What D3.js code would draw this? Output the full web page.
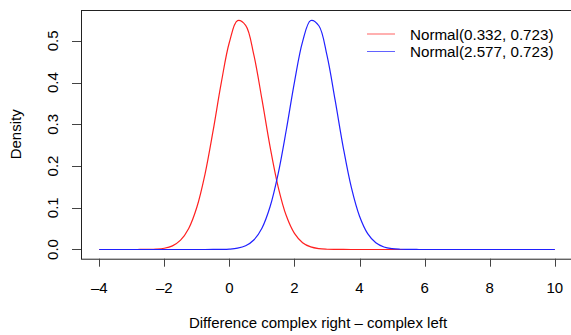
<!DOCTYPE html>
<html>
<head>
<meta charset="utf-8">
<script src="https://cdn.jsdelivr.net/npm/d3@7"></script>
<style>
  body { margin: 0; background: #fff; }
  svg { display: block; font-family: "Liberation Sans", Arial, sans-serif; }
</style>
</head>
<body>
<div id="chart"></div>
<script>
// x grid and density values
const xs = [-4, -3.5, -3, -2.75, -2.5, -2.25, -2, -1.75, -1.5, -1.25, -1, -0.75, -0.5, -0.25,
  0, 0.25, 0.5, 0.75, 1, 1.25, 1.5, 1.75, 2, 2.25, 2.5, 2.75, 3, 3.25, 3.5, 3.75,
  4, 4.25, 4.5, 4.75, 5, 5.25, 5.5, 5.75, 6, 7, 8, 9, 10]
const redDensity = [0, 0, 0.00001, 0.00006, 0.00026, 0.00094, 0.00304, 0.00874, 0.02227, 0.05036, 0.1011, 0.1800, 0.2846, 0.3991,
  0.4966, 0.5483, 0.5371, 0.4669, 0.3601, 0.2464, 0.1497, 0.0807, 0.0386, 0.01635, 0.00615, 0.00205, 0.00061, 0.00016, 0.00004, 0,
  0, 0, 0, 0, 0, 0, 0, 0, 0, 0, 0, 0, 0]
const blueDensity = [0, 0, 0, 0, 0, 0, 0, 0, 0, 0, 0, 0, 0.00006, 0.00026,
  0.00096, 0.00311, 0.00891, 0.02266, 0.05112, 0.1024, 0.1819, 0.2869, 0.4013, 0.4982, 0.5487, 0.5362, 0.4650, 0.3578, 0.2443, 0.1480,
  0.0795, 0.0379, 0.01606, 0.00603, 0.00201, 0.00059, 0.00015, 0.00004, 0.00001, 0, 0, 0, 0]
const seriesNames = ['Normal(0.332, 0.723)', 'Normal(2.577, 0.723)']
const seriesColors = ['#ff2020', '#2020ff']
const xTicks = [-4, -2, 0, 2, 4, 6, 8, 10]
const yTicks = [0, 0.1, 0.2, 0.3, 0.4, 0.5]

const width = 571, height = 335
const box = { left: 81, top: 10, right: 573, bottom: 258.7 }

const svg = d3.select('#chart').append('svg')
  .attr('width', width)
  .attr('height', height)

// R style 4% extended limits
const x = d3.scaleLinear().domain([-4.56, 10.56]).range([box.left, box.right])
const y = d3.scaleLinear().domain([-0.02207, 0.5739]).range([box.bottom, box.top])

// curves
const line = d3.line()
  .x((d, i) => x(xs[i]))
  .y(d => y(d))
  .curve(d3.curveCatmullRom.alpha(0.5))

;[redDensity, blueDensity].forEach((vals, k) => {
  svg.append('path')
    .attr('d', line(vals))
    .attr('fill', 'none')
    .attr('stroke', seriesColors[k])
    .attr('stroke-width', 1.2)
})

// box
svg.append('rect')
  .attr('x', box.left + 0.5)
  .attr('y', box.top + 0.5)
  .attr('width', box.right - box.left)
  .attr('height', box.bottom - box.top)
  .attr('fill', 'none')
  .attr('stroke', '#222')
  .attr('stroke-width', 1)

// x axis
const xAxis = svg.append('g')
xTicks.forEach(t => {
  const px = Math.round(x(t)) + 0.5
  xAxis.append('line')
    .attr('x1', px).attr('x2', px)
    .attr('y1', box.bottom).attr('y2', box.bottom + 8)
    .attr('stroke', '#444')
  xAxis.append('text')
    .attr('x', x(t))
    .attr('y', 293)
    .attr('text-anchor', 'middle')
    .attr('font-size', 15)
    .text(t < 0 ? '\u2013' + Math.abs(t) : t)
})

// y axis
const yAxis = svg.append('g')
yTicks.forEach(t => {
  const py = Math.round(y(t)) + 0.5
  yAxis.append('line')
    .attr('x1', box.left - 9).attr('x2', box.left)
    .attr('y1', py).attr('y2', py)
    .attr('stroke', '#444')
  yAxis.append('text')
    .attr('transform', 'translate(58,' + y(t) + ') rotate(-90)')
    .attr('text-anchor', 'middle')
    .attr('font-size', 15)
    .text(d3.format('.1f')(t))
})

// axis titles
svg.append('text')
  .attr('x', (box.left + 555) / 2)
  .attr('y', 328)
  .attr('text-anchor', 'middle')
  .attr('font-size', 15)
  .text('Difference complex right \u2013 complex left')

svg.append('text')
  .attr('transform', 'translate(21,' + (box.top + box.bottom) / 2 + ') rotate(-90)')
  .attr('text-anchor', 'middle')
  .attr('font-size', 15)
  .text('Density')

// legend
const legend = svg.append('g')
seriesNames.forEach((name, i) => {
  const ly = 34 + i * 17.5
  legend.append('line')
    .attr('x1', 367).attr('x2', 395)
    .attr('y1', ly).attr('y2', ly)
    .attr('stroke', seriesColors[i])
    .attr('opacity', 0.7)
  legend.append('text')
    .attr('x', 410)
    .attr('y', ly + 5.5)
    .attr('font-size', 15.2)
    .text(name)
})
</script>
</body>
</html>
